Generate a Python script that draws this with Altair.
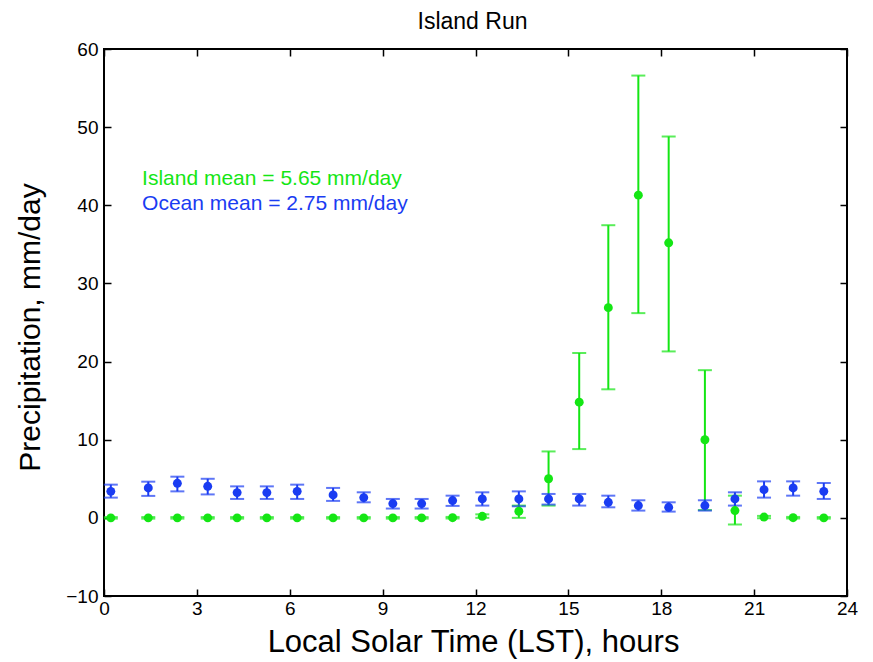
import altair as alt
import pandas as pd

# ---- data ----
hours = [0.22, 1.43, 2.37, 3.35, 4.30, 5.26, 6.24, 7.40, 8.39, 9.33, 10.26, 11.26,
         12.22, 13.40, 14.36, 15.35, 16.29, 17.26, 18.24, 19.41, 20.38, 21.32, 22.26, 23.25]

island_mean = [0.0, 0.0, 0.0, 0.0, 0.0, 0.0, 0.0, 0.0, 0.0, 0.0, 0.0, 0.02,
               0.2, 0.85, 5.0, 14.8, 26.9, 41.3, 35.2, 10.0, 0.93, 0.1, 0.02, 0.0]
island_hi = [0.1, 0.1, 0.1, 0.1, 0.1, 0.1, 0.1, 0.1, 0.1, 0.1, 0.1, 0.12,
             0.45, 1.57, 8.5, 21.1, 37.45, 56.6, 48.8, 18.9, 2.84, 0.25, 0.12, 0.1]
island_lo = [-0.1, -0.1, -0.1, -0.1, -0.1, -0.1, -0.1, -0.1, -0.1, -0.1, -0.1, -0.08,
             0.0, 0.0, 1.57, 8.8, 16.45, 26.2, 21.3, 1.0, -0.85, -0.05, -0.08, -0.1]

ocean_mean = [3.39, 3.83, 4.42, 4.04, 3.23, 3.23, 3.39, 2.93, 2.59, 1.83, 1.83, 2.21,
              2.42, 2.42, 2.42, 2.42, 1.99, 1.57, 1.35, 1.57, 2.42, 3.61, 3.83, 3.39]
ocean_hi = [4.25, 4.63, 5.27, 5.00, 4.03, 4.03, 4.25, 3.83, 3.27, 2.42, 2.42, 2.84,
            3.27, 3.39, 3.06, 3.06, 2.84, 2.25, 1.99, 2.25, 3.27, 4.67, 4.67, 4.46]
ocean_lo = [2.59, 2.81, 3.39, 3.00, 2.42, 2.42, 2.42, 2.17, 1.99, 1.19, 1.19, 1.53,
            1.57, 1.48, 1.70, 1.57, 1.35, 0.93, 0.80, 0.93, 1.57, 2.59, 2.84, 2.42]

series_names = ["Island", "Ocean"]
series_colors = ["#14E614", "#1A3CF2"]

note_text = ["Island mean = 5.65 mm/day", "Ocean mean = 2.75 mm/day"]
note_x = [1.23, 1.23]
note_y = [43.4, 40.2]

x_ticks = [0, 3, 6, 9, 12, 15, 18, 21, 24]
y_ticks = [-10, 0, 10, 20, 30, 40, 50, 60]

# ---- build table ----
rows = []
for name, m, hi, lo in [("Island", island_mean, island_hi, island_lo),
                        ("Ocean", ocean_mean, ocean_hi, ocean_lo)]:
    for h, a, b, c in zip(hours, m, hi, lo):
        rows.append({"series": name, "hour": h, "mean": a, "hi": b, "lo": c})
df = pd.DataFrame(rows)
notes = pd.DataFrame({"text": note_text, "hour": note_x, "val": note_y, "series": series_names})

FONT = "Liberation Sans"
W, H = 743, 547

xs = alt.Scale(domain=[0, 24], nice=False, zero=False)
ys = alt.Scale(domain=[-10, 60], nice=False, zero=False)
cs = alt.Scale(domain=series_names, range=series_colors)


def tick_axis(orient):
    return alt.Axis(orient=orient, values=x_ticks if orient in ("top", "bottom") else y_ticks,
                    labels=False, domain=False, grid=False, ticks=True, tickSize=7,
                    tickWidth=1.5, tickColor="black", offset=-7, title=None)


x_label_axis = alt.Axis(orient="bottom", values=x_ticks, ticks=False, tickSize=0, domain=False,
                        grid=False, labelFontSize=19, labelFont=FONT, labelColor="black",
                        labelPadding=3, labelFlush=False, labelOverlap=False,
                        title="Local Solar Time (LST), hours", titleFont=FONT, titleFontSize=31,
                        titleFontWeight="normal", titleColor="black", titleBaseline="middle",
                        titleAlign="center", titleX=369, titleY=46)
y_label_axis = alt.Axis(orient="left", values=y_ticks, ticks=False, tickSize=0, domain=False,
                        grid=False, labelFontSize=19, labelFont=FONT, labelColor="black",
                        labelPadding=6, labelFlush=False, labelOverlap=False,
                        title="Precipitation, mm/day", titleFont=FONT, titleFontSize=30,
                        titleFontWeight="normal", titleColor="black", titleBaseline="middle",
                        titleAlign="center", titleX=-74, titleY=278, titleAngle=-90)

color_enc = alt.Color("series:N", scale=cs, legend=None, sort=series_names)

bars = alt.Chart(df).mark_rule(strokeWidth=2).encode(
    x=alt.X("hour:Q", scale=xs, axis=tick_axis("bottom")),
    y=alt.Y("lo:Q", scale=ys, axis=tick_axis("left")),
    y2="hi:Q",
    color=color_enc,
)

caps = alt.Chart(df).transform_fold(["hi", "lo"], as_=["which", "capval"]).mark_tick(
    orient="horizontal", size=14, thickness=2
).encode(
    x=alt.X("hour:Q", scale=xs, axis=tick_axis("top")),
    y=alt.Y("capval:Q", scale=ys, axis=tick_axis("right")),
    color=color_enc,
)

points = alt.Chart(df).mark_circle(size=80, opacity=1).encode(
    x=alt.X("hour:Q", scale=xs, axis=x_label_axis),
    y=alt.Y("mean:Q", scale=ys, axis=y_label_axis),
    color=color_enc,
)

labels = alt.Chart(notes).mark_text(align="left", baseline="middle", font=FONT, fontSize=21).encode(
    x=alt.X("hour:Q", scale=xs, axis=None),
    y=alt.Y("val:Q", scale=ys, axis=None),
    text="text:N",
    color=color_enc,
)

chart = alt.layer(bars, caps, points, labels).resolve_axis(
    x="independent", y="independent"
).properties(
    width=W, height=H,
    title=alt.TitleParams("Island Run", font=FONT, fontSize=23, fontWeight="normal",
                          color="black", anchor="middle", offset=6, dx=-3),
    autosize=alt.AutoSizeParams(type="none"),
    padding={"left": 104, "top": 49, "right": 26, "bottom": 66},
    background="white",
).configure_view(stroke="black", strokeWidth=2)

chart.save("out.html", embed_options={"renderer": "svg", "actions": False})
